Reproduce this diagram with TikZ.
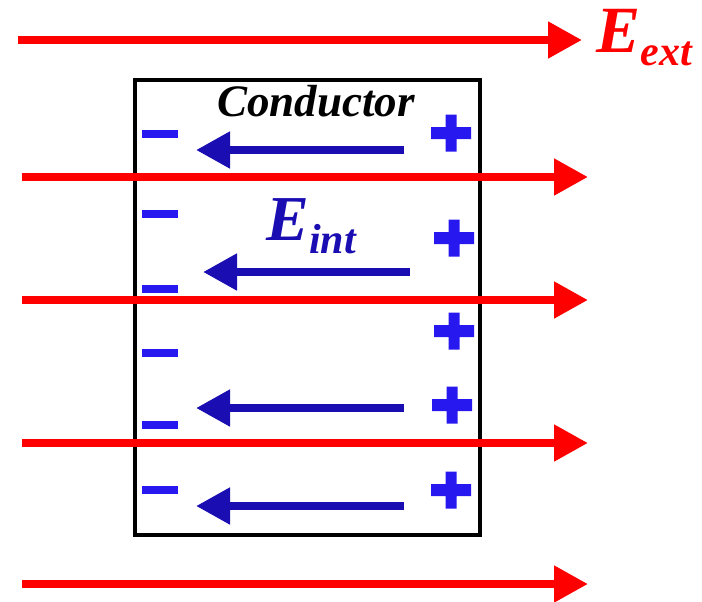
\documentclass[tikz,border=0pt]{standalone}
\usepackage{fontspec}
\setmainfont{Liberation Serif}
\usetikzlibrary{arrows.meta}
\definecolor{fieldred}{RGB}{255,0,0}
\definecolor{intblue}{RGB}{26,13,178}
\definecolor{chargeblue}{RGB}{40,24,240}

\begin{document}
\begin{tikzpicture}[
    x=0.5pt, y=-0.5pt,
    extarr/.style={-{Triangle[length=17pt, width=17.5pt]}, line width=4pt, draw=fieldred},
    intarr/.style={-{Triangle[length=17pt, width=17.5pt]}, line width=4pt, draw=intblue},
    lbl/.style={inner sep=0pt, font=\bfseries\itshape},
    minussign/.pic={\fill[chargeblue] (-18,-4) rectangle (18,4);},
    plussign/.pic={\fill[chargeblue] (-20,-6) rectangle (20,6) (-5.5,-18.5) rectangle (5.5,18.5);}
]
  \useasboundingbox (0,0) rectangle (702,601);

  % conductor slab
  \draw[line width=2pt] (135,80) rectangle (480,535);
  \node[lbl, anchor=base] (cond) at (316,116) {\fontsize{22.5}{22.5}\selectfont Conductor};

  % induced charges
  \foreach \y/\name in {134/m1, 214/m2, 289/m3, 353/m4, 425/m5, 490/m6}
    \pic (\name) at (160,\y) {minussign};
  \foreach \x/\y/\name in {451/133/p1, 454/238/p2, 454/331/p3, 452/405/p4, 451/490/p5}
    \pic (\name) at (\x,\y) {plussign};

  % internal field
  \coordinate (i1s) at (404,150); \coordinate (i1e) at (196,150);
  \coordinate (i2s) at (410,272); \coordinate (i2e) at (203,272);
  \coordinate (i3s) at (404,408); \coordinate (i3e) at (196,408);
  \coordinate (i4s) at (404,506); \coordinate (i4e) at (196,506);
  \draw[intarr] (i1s) -- (i1e);
  \draw[intarr] (i2s) -- (i2e);
  \draw[intarr] (i3s) -- (i3e);
  \draw[intarr] (i4s) -- (i4e);
  \node[lbl, text=intblue, anchor=base west] (eint) at (266,240)
    {\fontsize{32}{32}\selectfont E\raisebox{-6.5pt}{\fontsize{21}{21}\selectfont int}};

  % external field
  \coordinate (e0s) at (18,40); \coordinate (e0e) at (582,40);
  \draw[extarr] (e0s) -- (e0e);
  \foreach \y/\name in {177/e1, 300/e2, 443/e3, 584/e4} {
    \coordinate (\name s) at (22,\y); \coordinate (\name e) at (588,\y);
    \draw[extarr] (\name s) -- (\name e);
  }
  \node[lbl, text=fieldred, anchor=base west] (eext) at (596,52)
    {\fontsize{33}{33}\selectfont E\raisebox{-6.5pt}{\fontsize{21}{21}\selectfont ext}};
\end{tikzpicture}
\end{document}
